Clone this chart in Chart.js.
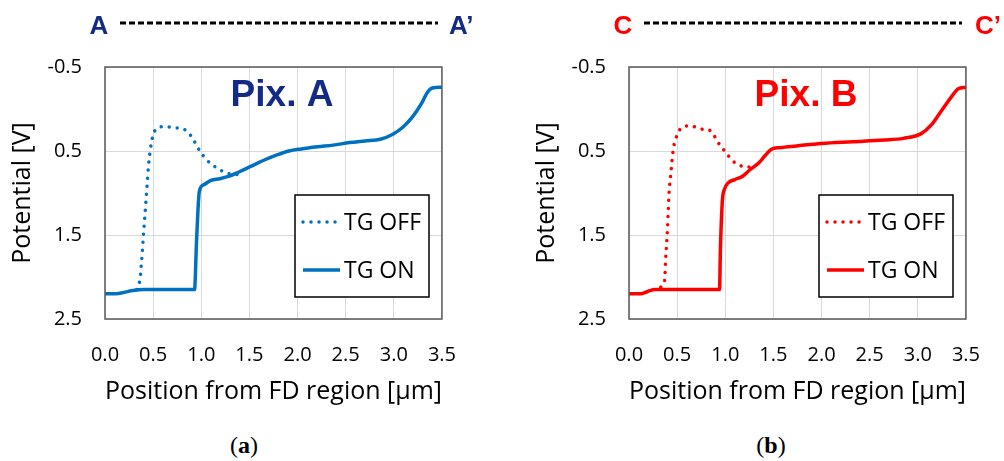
<!DOCTYPE html>
<html>
<head>
<meta charset="utf-8">
<script src="https://cdn.jsdelivr.net/npm/chart.js@4.4.0/dist/chart.umd.min.js"></script>
<style>
  html, body { margin: 0; padding: 0; background: #fff; overflow: hidden; }
  .panel { position: absolute; top: 0; width: 480px; height: 420px; }
  .cap { position: absolute; top: 432px; width: 60px; text-align: center;
         font-family: "Liberation Serif", serif; font-size: 24px; color: #000; }
</style>
</head>
<body>
<div class="panel" style="left:0"><canvas id="chartA"></canvas></div>
<div class="panel" style="left:524px"><canvas id="chartB"></canvas></div>
<div class="cap" style="left:214px">(<b>a</b>)</div>
<div class="cap" style="left:741px">(<b>b</b>)</div>
<script>
// Pix. A (left panel)
const aOnX = [0, 0.11, 0.21, 0.29, 0.41, 0.93, 0.95, 0.965, 0.98, 1.03, 1.10, 1.19, 1.29, 1.39, 1.52, 1.65, 1.78, 1.91, 2.04, 2.21, 2.37, 2.54, 2.70, 2.86, 2.99, 3.09, 3.19, 3.29, 3.35, 3.40, 3.5];
const aOnY = [2.20, 2.20, 2.18, 2.16, 2.15, 2.15, 1.60, 1.22, 0.98, 0.90, 0.85, 0.83, 0.80, 0.75, 0.68, 0.61, 0.55, 0.50, 0.475, 0.45, 0.43, 0.40, 0.38, 0.36, 0.30, 0.22, 0.10, -0.07, -0.20, -0.25, -0.26];
const aOffX = [0.33, 0.36, 0.38, 0.40, 0.42, 0.435, 0.45, 0.47, 0.50, 0.54, 0.62, 0.70, 0.85, 0.92, 0.98, 1.06, 1.16, 1.26, 1.36, 1.42];
const aOffY = [2.15, 2.05, 1.81, 1.49, 1.18, 0.94, 0.70, 0.49, 0.31, 0.23, 0.21, 0.22, 0.26, 0.37, 0.49, 0.61, 0.70, 0.76, 0.78, 0.74];

// Pix. B (right panel)
const bOnX = [0, 0.12, 0.20, 0.27, 0.94, 0.95, 0.97, 0.99, 1.03, 1.10, 1.18, 1.26, 1.35, 1.41, 1.48, 1.57, 1.74, 2.0, 2.32, 2.65, 2.85, 3.04, 3.14, 3.24, 3.34, 3.42, 3.5];
const bOnY = [2.20, 2.20, 2.17, 2.15, 2.15, 1.65, 1.09, 0.96, 0.88, 0.84, 0.80, 0.72, 0.64, 0.56, 0.48, 0.46, 0.44, 0.41, 0.39, 0.37, 0.35, 0.29, 0.19, 0.03, -0.13, -0.24, -0.26];
const bOffX = [0.33, 0.37, 0.38, 0.40, 0.415, 0.44, 0.46, 0.50, 0.55, 0.63, 0.76, 0.85, 0.92, 1.00, 1.08, 1.17, 1.25, 1.31];
const bOffY = [2.12, 2.04, 1.80, 1.41, 1.02, 0.70, 0.48, 0.31, 0.22, 0.20, 0.24, 0.26, 0.39, 0.51, 0.62, 0.68, 0.69, 0.64];

const seriesNames = ['TG OFF', 'TG ON'];
const xTitle = 'Position from FD region [\u03bcm]';
const yTitle = 'Potential [V]';

const pts = (xs, ys) => xs.map((x, i) => ({ x: x, y: ys[i] }));

// frame, A---A' header, big tag, boxed legend
const decor = {
    id: 'decor',
    afterDatasetsDraw(chart, args, o) {
        const ctx = chart.ctx;
        const a = chart.chartArea;
        ctx.save();

        // plot frame
        ctx.strokeStyle = '#595959';
        ctx.lineWidth = 1.5;
        ctx.strokeRect(a.left, a.top, a.right - a.left, a.bottom - a.top);

        // header
        ctx.fillStyle = o.endColor;
        ctx.font = "bold 26px 'Liberation Sans'";
        ctx.textBaseline = 'middle';
        ctx.textAlign = 'center';
        ctx.fillText(o.ends[0], 99, 27);
        ctx.textAlign = 'left';
        ctx.fillText(o.ends[1], o.endRightX, 27);
        ctx.strokeStyle = '#000';
        ctx.lineWidth = 3;
        ctx.setLineDash([6, 3]);
        ctx.beginPath();
        ctx.moveTo(120, 23);
        ctx.lineTo(438, 23);
        ctx.stroke();
        ctx.setLineDash([]);

        // tag
        ctx.fillStyle = o.tagColor;
        ctx.font = "bold 37px 'Liberation Sans'";
        ctx.textAlign = 'center';
        ctx.fillText(o.tag, 282, 96);

        // legend box
        const bx = 295, by = 195, bw = 134, bh = 102;
        ctx.fillStyle = '#fff';
        ctx.fillRect(bx, by, bw, bh);
        ctx.strokeStyle = '#000';
        ctx.lineWidth = 1.5;
        ctx.strokeRect(bx, by, bw, bh);
        const rows = [222, 270];
        chart.data.datasets.forEach((ds, i) => {
            const y = rows[i];
            ctx.strokeStyle = ds.borderColor;
            ctx.lineWidth = ds.borderWidth;
            ctx.lineCap = ds.borderCapStyle || 'butt';
            ctx.setLineDash(ds.borderDash || []);
            ctx.beginPath();
            ctx.moveTo(303, y);
            ctx.lineTo(340, y);
            ctx.stroke();
            ctx.setLineDash([]);
            ctx.fillStyle = '#000';
            ctx.font = "23px 'Open Sans'";
            ctx.textAlign = 'left';
            ctx.fillText(ds.label, 344, y + 1);
        });
        ctx.restore();
    }
};

function makeChart(id, onX, onY, offX, offY, color, deco) {
    return new Chart(document.getElementById(id).getContext('2d'), {
        type: 'line',
        data: {
            datasets: [{
                label: seriesNames[0],
                data: pts(offX, offY),
                borderColor: color,
                borderWidth: 3.5,
                borderDash: [0.01, 8],
                borderCapStyle: 'round',
                pointRadius: 0,
                cubicInterpolationMode: 'monotone',
                order: 1
            }, {
                label: seriesNames[1],
                data: pts(onX, onY),
                borderColor: color,
                borderWidth: 3.5,
                pointRadius: 0,
                cubicInterpolationMode: 'monotone',
                order: 0
            }]
        },
        options: {
            responsive: true,
            maintainAspectRatio: false,
            animation: false,
            layout: { padding: { top: 67, right: 18, bottom: 0, left: 0 } },
            plugins: {
                legend: { display: false },
                tooltip: { enabled: false },
                decor: deco
            },
            scales: {
                x: {
                    type: 'linear',
                    min: 0, max: 3.5,
                    ticks: { stepSize: 0.5, padding: 24, color: '#000',
                             font: { family: 'Open Sans', size: 20 },
                             callback: v => v.toFixed(1) },
                    grid: { color: '#d9d9d9', drawTicks: false },
                    border: { display: false },
                    title: { display: true, text: xTitle, color: '#000',
                             font: { family: 'Open Sans', size: 25 },
                             padding: { top: 0, bottom: 13 } },
                    afterFit: s => { s.height = 101; }
                },
                y: {
                    type: 'linear',
                    reverse: true,
                    min: -0.5, max: 2.5,
                    ticks: { stepSize: 1, padding: 23, color: '#000',
                             font: { family: 'Open Sans', size: 20 },
                             callback: v => v.toFixed(1) },
                    grid: { color: '#d9d9d9', drawTicks: false },
                    border: { display: false },
                    title: { display: true, text: yTitle, color: '#000',
                             font: { family: 'Open Sans', size: 25 },
                             padding: { top: 8, bottom: 0 } },
                    afterFit: s => { s.width = 105; }
                }
            }
        },
        plugins: [decor]
    });
}

makeChart('chartA', aOnX, aOnY, aOffX, aOffY, '#0070C0',
    { ends: ['A', 'A\u2019'], endColor: '#132B85', endRightX: 449, tag: 'Pix. A', tagColor: '#132B85' });
makeChart('chartB', bOnX, bOnY, bOffX, bOffY, '#FF0000',
    { ends: ['C', 'C\u2019'], endColor: '#FF0000', endRightX: 451, tag: 'Pix. B', tagColor: '#FF0000' });
</script>
</body>
</html>
